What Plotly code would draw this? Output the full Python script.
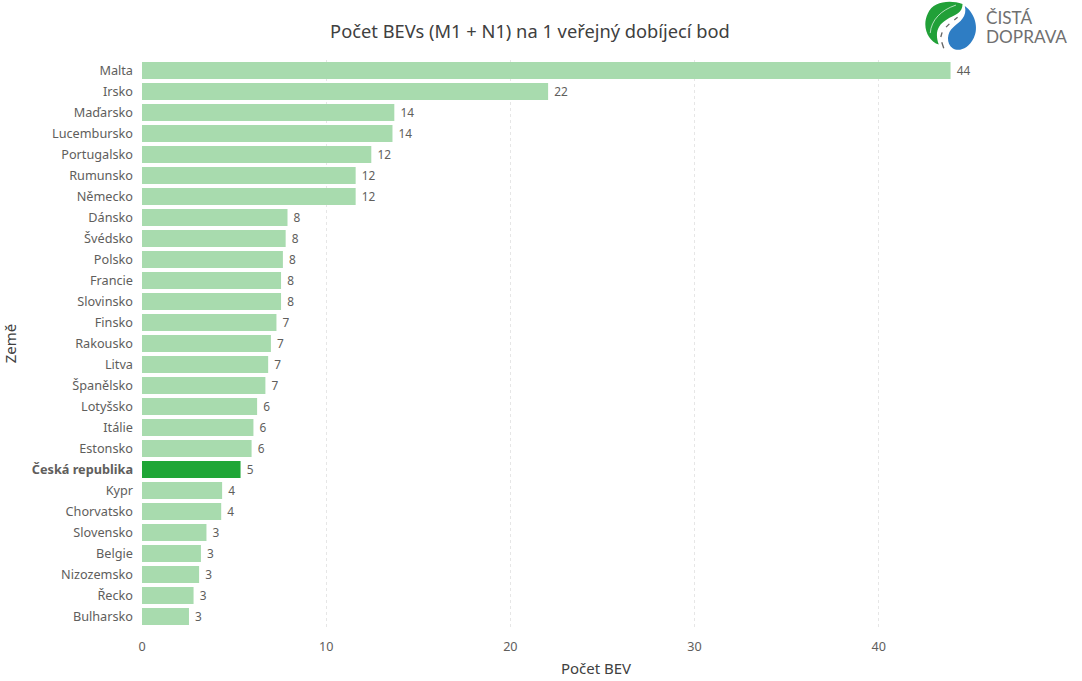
import base64
import plotly.graph_objects as go

countries = ['Malta', 'Irsko', 'Maďarsko', 'Lucembursko', 'Portugalsko', 'Rumunsko', 'Německo', 'Dánsko', 'Švédsko',
             'Polsko', 'Francie', 'Slovinsko', 'Finsko', 'Rakousko', 'Litva', 'Španělsko', 'Lotyšsko', 'Itálie',
             'Estonsko', 'Česká republika', 'Kypr', 'Chorvatsko', 'Slovensko', 'Belgie', 'Nizozemsko', 'Řecko',
             'Bulharsko']
values = [43.9, 22.05, 13.7, 13.6, 12.45, 11.6, 11.6, 7.9, 7.8, 7.65, 7.55, 7.55, 7.3, 7.0, 6.85, 6.7, 6.25, 6.05,
          5.95, 5.35, 4.35, 4.3, 3.5, 3.2, 3.1, 2.8, 2.55]
labels = ['44', '22', '14', '14', '12', '12', '12', '8', '8', '8', '8', '8', '7', '7', '7', '7', '6', '6', '6', '5',
          '4', '4', '3', '3', '3', '3', '3']
highlight = 'Česká republika'

LIGHT = '#A8DBAE'
DARK = '#1FA637'
TEXT = '#605E5C'
FONT = 'Noto Sans, Open Sans, sans-serif'

# plot area in page pixels, the logo is placed relative to it
PLOT_W = 908
PLOT_H = 567

tick_labels = [f'<b>{c}</b>' if c == highlight else c for c in countries]
bar_colors = [DARK if c == highlight else LIGHT for c in countries]

logo_svg = """<svg xmlns="http://www.w3.org/2000/svg" viewBox="70 0 170 160">
<path d="M190 12 C150 -2 100 5 85 40 C65 80 85 125 118 135 C105 100 115 75 140 60 C170 42 190 40 190 12 Z" fill="#21A038"/>
<path d="M92 100 C95 60 125 30 170 15" fill="none" stroke="#fff" stroke-width="2"/>
<path d="M197 18 C228 40 240 85 224 115 C208 148 178 158 160 146 C140 132 142 98 162 82 C182 66 205 50 197 18 Z" fill="#2E7DC4"/>
<path d="M133 146 L127 128 M124 112 L128 98 M140 82 L150 72 M165 60 L175 52" fill="none" stroke="#666" stroke-width="4"/>
</svg>"""
logo_uri = 'data:image/svg+xml;base64,' + base64.b64encode(logo_svg.encode()).decode()

fig = go.Figure()
fig.add_trace(go.Bar(
    x=values,
    y=countries,
    orientation='h',
    width=0.8,
    marker=dict(color=bar_colors, line=dict(width=0)),
    text=labels,
    texttemplate='\u00a0%{text}',
    textposition='outside',
    cliponaxis=False,
    textfont=dict(family=FONT, size=12, color=TEXT),
))

fig.update_layout(
    width=1082,
    height=681,
    margin=dict(l=142, r=32, t=60, b=54, autoexpand=False),
    plot_bgcolor='white',
    paper_bgcolor='white',
    showlegend=False,
    font=dict(family=FONT, size=12, color=TEXT),
    title=dict(text='Počet BEVs (M1 + N1) na 1 veřejný dobíjecí bod', x=530 / 1082, xanchor='center',
               y=1 - 32 / 681, yanchor='middle', font=dict(family=FONT, size=18.3, color='#404040')),
)
fig.update_xaxes(
    range=[0, 49.3],
    tickvals=[0, 10, 20, 30, 40],
    showgrid=True,
    gridcolor='#E6E6E6',
    griddash='dot',
    gridwidth=1,
    zeroline=False,
    showline=False,
    ticks='',
    ticklabelstandoff=10,
    tickfont=dict(family=FONT, size=12.6, color=TEXT),
    title=dict(text='Počet BEV', standoff=9, font=dict(family=FONT, size=15, color='#404040')),
)
fig.update_yaxes(
    categoryorder='array',
    categoryarray=countries,
    range=[26.5, -0.5],
    tickmode='array',
    tickvals=countries,
    ticktext=tick_labels,
    showgrid=False,
    zeroline=False,
    showline=False,
    ticks='',
    ticklabelstandoff=8,
    tickfont=dict(family=FONT, size=12.7, color=TEXT),
    title=dict(text='Země', standoff=12, font=dict(family=FONT, size=15, color='#404040')),
)

fig.add_layout_image(dict(source=logo_uri, xref='paper', yref='paper', x=(923 - 142) / PLOT_W, y=1 + 60 / PLOT_H,
                          sizex=56 / PLOT_W, sizey=53 / PLOT_H, xanchor='left', yanchor='top', layer='above'))
for word, top in [('ČISTÁ', 6), ('DOPRAVA', 25)]:
    fig.add_annotation(text=word, xref='paper', yref='paper', x=(985 - 142) / PLOT_W, y=1 + (60 - top) / PLOT_H,
                       xanchor='left', yanchor='top', showarrow=False, borderpad=0,
                       font=dict(family='Lato, sans-serif', size=17.2, color='#707070'))

fig.write_html('out.html', post_script="document.body.style.margin='0';", config={'displayModeBar': False})
